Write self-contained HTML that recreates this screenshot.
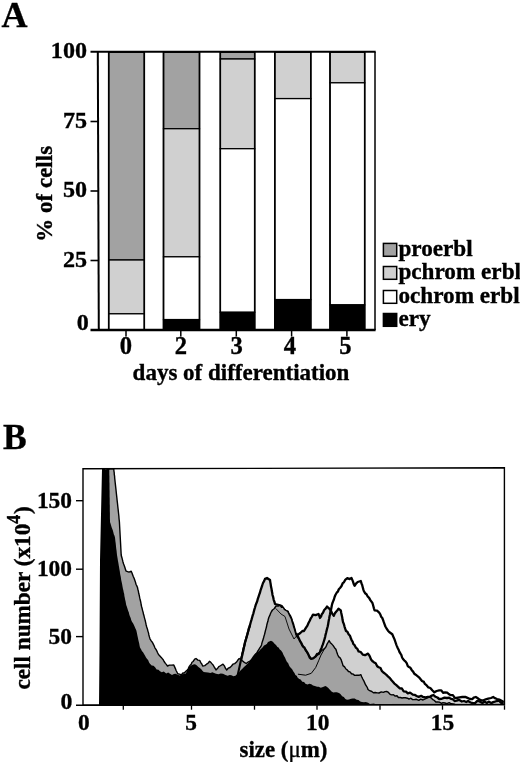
<!DOCTYPE html>
<html lang="en"><head><meta charset="utf-8"><title>Figure</title>
<style>html,body{margin:0;padding:0;background:#fff;}svg{display:block;}text{font-family:'Liberation Serif', 'DejaVu Serif', serif;font-weight:bold;fill:#000;stroke:#000;stroke-width:0.35px;}</style></head><body>
<svg width="520" height="762" viewBox="0 0 520 762">
<rect x="0" y="0" width="520" height="762" fill="#fff"/>
<g id="panelA">
<text x="1.5" y="27.4" font-size="36">A</text>
<rect x="108.7" y="52" width="35.6" height="208.0" fill="#a2a2a2" stroke="#000" stroke-width="1.3"/>
<rect x="108.7" y="260" width="35.6" height="53.8" fill="#d0d0d0" stroke="#000" stroke-width="1.3"/>
<rect x="108.7" y="313.8" width="35.6" height="16.2" fill="#fff" stroke="#000" stroke-width="1.3"/>
<rect x="108.7" y="52.0" width="35.6" height="278.0" fill="none" stroke="#000" stroke-width="1.6"/>
<rect x="163.5" y="52" width="36.0" height="76.7" fill="#a2a2a2" stroke="#000" stroke-width="1.3"/>
<rect x="163.5" y="128.7" width="36.0" height="128.1" fill="#d0d0d0" stroke="#000" stroke-width="1.3"/>
<rect x="163.5" y="256.8" width="36.0" height="62.8" fill="#fff" stroke="#000" stroke-width="1.3"/>
<rect x="163.5" y="319.6" width="36.0" height="10.4" fill="#000" stroke="#000" stroke-width="1.3"/>
<rect x="163.5" y="52.0" width="36.0" height="278.0" fill="none" stroke="#000" stroke-width="1.6"/>
<rect x="220.3" y="52" width="34.4" height="7.0" fill="#a2a2a2" stroke="#000" stroke-width="1.3"/>
<rect x="220.3" y="59" width="34.4" height="89.7" fill="#d0d0d0" stroke="#000" stroke-width="1.3"/>
<rect x="220.3" y="148.7" width="34.4" height="163.6" fill="#fff" stroke="#000" stroke-width="1.3"/>
<rect x="220.3" y="312.3" width="34.4" height="17.7" fill="#000" stroke="#000" stroke-width="1.3"/>
<rect x="220.3" y="52.0" width="34.4" height="278.0" fill="none" stroke="#000" stroke-width="1.6"/>
<rect x="274.8" y="52" width="36.0" height="46.6" fill="#d0d0d0" stroke="#000" stroke-width="1.3"/>
<rect x="274.8" y="98.6" width="36.0" height="201.0" fill="#fff" stroke="#000" stroke-width="1.3"/>
<rect x="274.8" y="299.6" width="36.0" height="30.4" fill="#000" stroke="#000" stroke-width="1.3"/>
<rect x="274.8" y="52.0" width="36.0" height="278.0" fill="none" stroke="#000" stroke-width="1.6"/>
<rect x="330.0" y="52" width="34.7" height="30.8" fill="#d0d0d0" stroke="#000" stroke-width="1.3"/>
<rect x="330.0" y="82.8" width="34.7" height="222.1" fill="#fff" stroke="#000" stroke-width="1.3"/>
<rect x="330.0" y="304.9" width="34.7" height="25.1" fill="#000" stroke="#000" stroke-width="1.3"/>
<rect x="330.0" y="52.0" width="34.7" height="278.0" fill="none" stroke="#000" stroke-width="1.6"/>
<line x1="97.8" y1="52.0" x2="98.8" y2="330.0" stroke="#000" stroke-width="2"/>
<line x1="90.5" y1="51.8" x2="375.7" y2="51.8" stroke="#000" stroke-width="1.9"/>
<line x1="375.0" y1="52.0" x2="375.0" y2="330.0" stroke="#000" stroke-width="1.5"/>
<line x1="90.5" y1="330.0" x2="375.6" y2="330.0" stroke="#000" stroke-width="2.4"/>
<text x="87" y="58.3" font-size="24.1" text-anchor="end">100</text>
<line x1="90.5" y1="121.5" x2="98.5" y2="121.5" stroke="#000" stroke-width="1.6"/>
<text x="87" y="127.8" font-size="24.1" text-anchor="end">75</text>
<line x1="90.5" y1="191" x2="98.5" y2="191" stroke="#000" stroke-width="1.6"/>
<text x="87" y="197.3" font-size="24.1" text-anchor="end">50</text>
<line x1="90.5" y1="260.5" x2="98.5" y2="260.5" stroke="#000" stroke-width="1.6"/>
<text x="87" y="266.8" font-size="24.1" text-anchor="end">25</text>
<text x="88.7" y="330" font-size="24.1" text-anchor="end">0</text>
<line x1="126" y1="330.0" x2="126" y2="336.5" stroke="#000" stroke-width="1.5"/>
<text x="126" y="354.3" font-size="24.6" text-anchor="middle">0</text>
<line x1="180.8" y1="330.0" x2="180.8" y2="336.5" stroke="#000" stroke-width="1.5"/>
<text x="180.8" y="354.3" font-size="24.6" text-anchor="middle">2</text>
<line x1="236.3" y1="330.0" x2="236.3" y2="336.5" stroke="#000" stroke-width="1.5"/>
<text x="236.60000000000002" y="354.3" font-size="24.6" text-anchor="middle">3</text>
<line x1="291.6" y1="330.0" x2="291.6" y2="336.5" stroke="#000" stroke-width="1.5"/>
<text x="290.0" y="354.3" font-size="24.6" text-anchor="middle">4</text>
<line x1="346.9" y1="330.0" x2="346.9" y2="336.5" stroke="#000" stroke-width="1.5"/>
<text x="345.29999999999995" y="354.3" font-size="24.6" text-anchor="middle">5</text>
<text x="241" y="380.4" font-size="23" text-anchor="middle">days of differentiation</text>
<text transform="translate(52,193.8) rotate(-90)" font-size="23" text-anchor="middle">% of cells</text>
<rect x="383.4" y="243.39999999999998" width="13.3" height="12.9" fill="#a2a2a2" stroke="#000" stroke-width="1.5"/>
<text x="398.4" y="256" font-size="23.2">proerbl</text>
<rect x="383.4" y="266.5" width="13.3" height="12.8" fill="#d0d0d0" stroke="#000" stroke-width="1.5"/>
<text x="398.4" y="279" font-size="23.2">pchrom erbl</text>
<rect x="383.4" y="290.5" width="13.3" height="12.8" fill="#fff" stroke="#000" stroke-width="1.5"/>
<text x="398.4" y="303" font-size="23.2">ochrom erbl</text>
<rect x="383.4" y="313.5" width="13.3" height="12.8" fill="#000" stroke="#000" stroke-width="1.5"/>
<text x="398.4" y="326" font-size="23.2">ery</text>
</g>
<g id="panelB">
<text x="3" y="449.2" font-size="35.5">B</text>
<clipPath id="cb"><rect x="83.0" y="468.8" width="421.5" height="236.40000000000003"/></clipPath>
<g clip-path="url(#cb)">
<polygon points="237.5,705.0 237.5,676.0 237.9,674.0 238.4,671.7 238.9,670.1 239.3,667.8 239.7,665.9 240.1,663.8 240.6,662.0 241.0,660.0 241.5,657.6 242.1,655.8 242.4,653.3 243.1,651.5 243.4,649.1 244.0,647.1 244.5,644.9 245.0,642.5 245.5,640.8 246.1,638.8 246.7,636.6 247.2,635.0 247.8,632.6 248.3,630.8 248.8,628.6 249.5,627.1 250.0,625.0 250.6,622.7 251.0,621.3 251.6,619.4 252.2,617.3 252.7,615.4 253.4,613.3 253.9,611.3 254.4,609.4 255.0,607.5 255.7,605.0 256.4,603.2 257.2,601.3 257.8,598.9 258.5,596.8 259.3,594.3 260.0,592.5 260.7,589.8 261.4,587.8 262.2,585.5 263.0,583.0 264.1,581.1 265.0,578.8 267.0,578.0 270.0,580.0 270.3,582.1 270.7,584.3 271.0,586.6 271.5,588.7 271.8,590.8 272.2,592.7 272.5,595.0 273.2,597.2 273.7,599.8 274.5,602.0 275.0,604.0 277.0,604.5 280.0,605.4 281.8,606.0 283.6,609.0 285.6,610.8 287.7,611.5 288.5,613.8 289.7,615.4 290.5,616.9 291.5,619.2 292.0,621.1 292.6,622.7 293.3,624.7 293.8,627.0 294.4,628.6 294.9,630.5 295.4,632.8 296.0,634.6 298.0,634.6 300.3,633.0 302.4,631.0 304.0,631.0 305.1,629.2 306.2,627.4 307.4,625.6 308.5,623.0 309.7,620.7 310.6,618.7 311.7,617.0 313.0,614.6 315.6,615.1 318.5,614.0 319.4,616.1 320.0,618.0 321.1,616.3 321.8,614.2 323.0,612.7 324.2,610.0 325.6,608.7 327.0,606.5 328.7,608.1 330.0,609.6 331.2,611.2 332.3,613.9 333.8,615.8 334.9,613.3 336.1,611.7 337.4,610.2 338.5,608.8 340.8,610.4 341.2,612.8 341.7,615.1 342.2,617.2 342.5,619.6 343.0,622.0 343.8,623.9 344.6,626.8 345.2,628.7 346.0,631.0 347.4,631.8 348.6,634.3 350.0,635.8 350.8,638.0 351.7,640.3 352.6,641.7 353.3,644.0 354.6,645.2 355.8,647.6 357.4,648.9 358.6,651.4 360.7,652.0 362.8,654.6 365.1,655.2 368.0,653.6 369.1,655.1 370.2,657.3 371.1,659.6 372.3,661.0 373.8,662.2 375.7,663.3 377.2,666.2 378.7,667.3 380.5,668.0 381.8,670.9 383.4,672.5 385.0,673.7 386.4,674.8 387.9,676.4 389.9,678.1 391.3,680.0 393.1,682.0 394.4,683.6 396.1,684.9 397.7,686.4 399.8,688.3 401.9,688.5 403.7,691.3 406.0,691.6 407.8,693.3 410.1,692.6 412.8,694.6 414.6,694.8 416.6,696.0 418.7,696.9 421.2,695.8 423.0,697.0 425.5,697.3 427.7,697.0 430.0,696.7 431.8,695.6 433.5,695.0 435.6,696.8 437.4,697.5 439.2,699.0 441.7,698.8 444.5,697.6 447.0,698.0 449.2,697.7 450.5,698.6 453.0,699.3 454.6,701.0 456.7,700.6 458.9,699.8 461.8,701.5 464.0,701.0 466.2,702.0 468.1,700.9 470.2,702.2 472.0,703.0 474.8,703.3 477.3,700.9 479.6,701.5 482.4,703.1 484.3,701.5 487.0,703.0 488.6,701.6 491.2,703.1 493.2,702.1 494.8,701.7 497.0,701.0 498.9,700.7 501.2,703.0 503.7,703.0 503.7,705.0" fill="#d0d0d0"/>
<polyline points="237.5,676.0 237.9,674.0 238.4,671.7 238.9,670.1 239.3,667.8 239.7,665.9 240.1,663.8 240.6,662.0 241.0,660.0 241.5,657.6 242.1,655.8 242.4,653.3 243.1,651.5 243.4,649.1 244.0,647.1 244.5,644.9 245.0,642.5 245.5,640.8 246.1,638.8 246.7,636.6 247.2,635.0 247.8,632.6 248.3,630.8 248.8,628.6 249.5,627.1 250.0,625.0 250.6,622.7 251.0,621.3 251.6,619.4 252.2,617.3 252.7,615.4 253.4,613.3 253.9,611.3 254.4,609.4 255.0,607.5 255.7,605.0 256.4,603.2 257.2,601.3 257.8,598.9 258.5,596.8 259.3,594.3 260.0,592.5 260.7,589.8 261.4,587.8 262.2,585.5 263.0,583.0 264.1,581.1 265.0,578.8 267.0,578.0 270.0,580.0 270.3,582.1 270.7,584.3 271.0,586.6 271.5,588.7 271.8,590.8 272.2,592.7 272.5,595.0 273.2,597.2 273.7,599.8 274.5,602.0 275.0,604.0 277.0,604.5 280.0,605.4 281.8,606.0 283.6,609.0 285.6,610.8 287.7,611.5 288.5,613.8 289.7,615.4 290.5,616.9 291.5,619.2 292.0,621.1 292.6,622.7 293.3,624.7 293.8,627.0 294.4,628.6 294.9,630.5 295.4,632.8 296.0,634.6 298.0,634.6 300.3,633.0 302.4,631.0 304.0,631.0 305.1,629.2 306.2,627.4 307.4,625.6 308.5,623.0 309.7,620.7 310.6,618.7 311.7,617.0 313.0,614.6 315.6,615.1 318.5,614.0 319.4,616.1 320.0,618.0 321.1,616.3 321.8,614.2 323.0,612.7 324.2,610.0 325.6,608.7 327.0,606.5 328.7,608.1 330.0,609.6 331.2,611.2 332.3,613.9 333.8,615.8 334.9,613.3 336.1,611.7 337.4,610.2 338.5,608.8 340.8,610.4 341.2,612.8 341.7,615.1 342.2,617.2 342.5,619.6 343.0,622.0 343.8,623.9 344.6,626.8 345.2,628.7 346.0,631.0 347.4,631.8 348.6,634.3 350.0,635.8 350.8,638.0 351.7,640.3 352.6,641.7 353.3,644.0 354.6,645.2 355.8,647.6 357.4,648.9 358.6,651.4 360.7,652.0 362.8,654.6 365.1,655.2 368.0,653.6 369.1,655.1 370.2,657.3 371.1,659.6 372.3,661.0 373.8,662.2 375.7,663.3 377.2,666.2 378.7,667.3 380.5,668.0 381.8,670.9 383.4,672.5 385.0,673.7 386.4,674.8 387.9,676.4 389.9,678.1 391.3,680.0 393.1,682.0 394.4,683.6 396.1,684.9 397.7,686.4 399.8,688.3 401.9,688.5 403.7,691.3 406.0,691.6 407.8,693.3 410.1,692.6 412.8,694.6 414.6,694.8 416.6,696.0 418.7,696.9 421.2,695.8 423.0,697.0 425.5,697.3 427.7,697.0 430.0,696.7 431.8,695.6 433.5,695.0 435.6,696.8 437.4,697.5 439.2,699.0 441.7,698.8 444.5,697.6 447.0,698.0 449.2,697.7 450.5,698.6 453.0,699.3 454.6,701.0 456.7,700.6 458.9,699.8 461.8,701.5 464.0,701.0 466.2,702.0 468.1,700.9 470.2,702.2 472.0,703.0 474.8,703.3 477.3,700.9 479.6,701.5 482.4,703.1 484.3,701.5 487.0,703.0 488.6,701.6 491.2,703.1 493.2,702.1 494.8,701.7 497.0,701.0 498.9,700.7 501.2,703.0 503.7,703.0" fill="none" stroke="#000" stroke-width="2.3" stroke-linejoin="round"/>
<polygon points="105.0,705.0 109.0,469.0 111.4,468.6 113.8,469.0 113.9,470.8 114.2,472.6 114.3,474.6 114.6,476.2 114.7,478.1 114.9,479.8 115.1,481.7 115.3,483.5 115.5,485.3 115.7,487.1 115.9,488.9 116.1,490.8 116.3,492.7 116.5,494.5 116.7,496.4 116.9,498.1 117.1,500.1 117.3,501.8 117.5,503.5 117.7,505.5 117.9,507.3 118.1,509.0 118.3,510.9 118.5,512.8 118.7,514.6 118.9,516.4 119.0,518.1 119.2,520.0 119.4,521.8 119.5,523.6 119.6,525.5 119.7,527.4 119.8,529.2 119.9,531.1 120.0,532.9 120.1,534.8 120.2,536.6 120.3,538.4 120.4,540.3 120.5,542.1 120.6,543.9 120.7,545.8 120.8,547.7 120.9,549.5 121.0,551.3 121.1,553.2 121.2,555.0 121.6,556.8 122.1,558.3 122.6,560.3 123.0,562.0 123.6,564.0 124.3,565.7 124.9,567.5 125.5,569.6 126.2,571.2 129.0,572.1 131.2,571.2 131.9,572.7 132.7,575.1 133.3,576.6 134.1,578.3 134.7,580.1 135.4,581.9 136.0,584.2 136.8,585.9 137.5,587.5 137.9,589.6 138.4,591.3 138.7,593.3 139.2,595.1 139.6,597.2 140.0,599.0 140.5,601.0 140.9,602.9 141.2,605.0 141.7,607.0 142.2,608.8 142.6,610.6 143.1,612.2 143.5,614.3 144.0,615.8 144.4,617.6 144.9,619.4 145.4,621.3 145.8,623.1 146.2,625.0 146.7,627.0 147.4,628.9 147.9,631.1 148.5,632.9 148.9,635.0 149.4,636.9 150.0,638.8 151.2,640.9 152.5,642.5 153.4,644.4 154.1,645.7 154.9,647.8 155.8,649.1 156.7,650.7 157.5,652.5 158.5,654.5 159.7,655.7 160.8,657.1 161.8,658.1 163.2,659.7 164.1,661.5 165.4,663.4 166.3,664.4 167.5,666.0 169.4,665.1 171.5,665.1 173.8,665.0 174.5,666.6 175.4,668.6 176.1,670.5 176.9,672.0 177.7,673.8 179.5,674.1 181.5,674.8 182.9,673.0 184.2,673.0 185.9,671.2 187.3,670.0 188.2,668.8 189.1,666.7 190.1,665.3 191.2,664.3 192.0,662.3 193.1,661.5 194.7,659.2 196.0,658.5 197.9,660.1 199.8,660.4 200.6,662.3 201.8,664.0 202.7,666.0 204.8,665.6 206.5,664.2 207.9,663.4 209.4,661.3 210.6,662.1 212.1,663.9 213.3,665.2 214.3,667.2 215.2,668.5 216.0,670.0 217.4,668.6 218.8,666.7 220.0,666.0 223.0,664.2 224.4,665.9 225.4,668.2 226.7,670.0 228.2,668.2 230.0,667.5 231.5,666.0 232.9,664.2 234.7,663.6 236.3,662.3 237.7,660.3 239.2,658.5 242.0,660.4 243.9,662.1 246.2,663.5 248.1,662.0 250.0,661.0 251.7,659.9 253.3,658.2 255.0,656.0 255.9,654.2 256.9,653.3 257.7,651.1 258.8,649.7 259.6,648.1 260.7,646.7 261.5,645.0 261.9,643.1 262.5,641.3 263.0,639.7 263.5,638.0 264.0,636.1 264.5,634.5 265.0,632.5 265.4,630.8 266.0,628.6 266.5,626.8 266.8,625.0 267.3,623.0 267.9,621.3 268.3,619.2 268.8,617.5 269.8,615.4 270.5,613.5 271.5,611.5 272.5,610.0 274.4,608.5 276.0,606.0 278.3,606.1 280.0,605.4 281.5,607.2 283.3,607.4 284.4,609.4 286.1,610.5 287.7,611.5 288.6,613.3 289.5,615.1 290.5,617.1 291.5,619.2 292.0,621.4 292.6,623.3 293.2,624.9 293.7,627.1 294.3,628.6 294.9,630.7 295.4,632.5 296.0,634.6 297.1,637.0 298.6,638.5 299.8,640.6 300.6,642.4 301.6,643.3 302.6,645.7 303.8,647.1 304.6,648.3 305.6,650.0 306.7,652.2 307.8,653.3 308.7,655.1 309.9,656.6 310.9,658.8 313.4,658.3 315.7,656.4 317.0,655.5 318.6,653.1 320.0,652.0 322.5,650.0 324.8,648.3 326.0,646.8 326.9,644.4 328.0,642.5 329.1,640.6 330.3,642.7 331.8,644.1 333.0,645.4 334.5,647.7 335.9,649.2 336.5,651.2 337.1,653.0 337.8,655.0 338.8,656.9 340.1,657.9 341.2,659.8 341.7,661.6 342.4,663.4 343.0,665.6 344.6,666.9 345.9,669.0 347.0,669.7 348.5,671.5 350.0,671.9 351.5,673.8 353.0,674.0 354.6,675.4 356.8,675.3 358.9,675.3 360.8,674.6 361.7,676.8 362.8,679.0 363.8,680.8 364.6,682.6 365.4,684.5 366.3,685.8 367.3,687.5 368.0,689.5 369.7,690.7 371.8,691.5 373.4,692.7 375.2,692.5 377.3,692.9 379.0,693.0 381.3,691.9 383.3,692.4 385.0,691.6 386.6,691.5 388.2,692.2 390.1,694.3 391.7,694.9 393.5,694.8 395.2,696.1 397.0,695.7 398.4,697.5 400.4,697.5 402.0,698.0 403.7,697.7 405.4,697.8 407.5,698.2 409.0,699.1 410.9,698.2 412.6,699.6 414.6,699.5 416.5,699.3 418.8,700.3 420.7,699.1 423.0,700.0 425.2,698.8 427.1,698.2 429.4,697.0 431.1,697.8 432.5,699.4 434.4,700.5 435.8,702.0 437.7,701.9 439.4,702.1 441.6,703.3 443.0,702.6 445.0,703.0 446.8,703.7 449.2,702.7 451.2,703.8 453.2,704.0 455.0,704.5 455.0,705.0" fill="#a2a2a2"/>
<polyline points="109.0,469.0 111.4,468.6 113.8,469.0 113.9,470.8 114.2,472.6 114.3,474.6 114.6,476.2 114.7,478.1 114.9,479.8 115.1,481.7 115.3,483.5 115.5,485.3 115.7,487.1 115.9,488.9 116.1,490.8 116.3,492.7 116.5,494.5 116.7,496.4 116.9,498.1 117.1,500.1 117.3,501.8 117.5,503.5 117.7,505.5 117.9,507.3 118.1,509.0 118.3,510.9 118.5,512.8 118.7,514.6 118.9,516.4 119.0,518.1 119.2,520.0 119.4,521.8 119.5,523.6 119.6,525.5 119.7,527.4 119.8,529.2 119.9,531.1 120.0,532.9 120.1,534.8 120.2,536.6 120.3,538.4 120.4,540.3 120.5,542.1 120.6,543.9 120.7,545.8 120.8,547.7 120.9,549.5 121.0,551.3 121.1,553.2 121.2,555.0 121.6,556.8 122.1,558.3 122.6,560.3 123.0,562.0 123.6,564.0 124.3,565.7 124.9,567.5 125.5,569.6 126.2,571.2 129.0,572.1 131.2,571.2 131.9,572.7 132.7,575.1 133.3,576.6 134.1,578.3 134.7,580.1 135.4,581.9 136.0,584.2 136.8,585.9 137.5,587.5 137.9,589.6 138.4,591.3 138.7,593.3 139.2,595.1 139.6,597.2 140.0,599.0 140.5,601.0 140.9,602.9 141.2,605.0 141.7,607.0 142.2,608.8 142.6,610.6 143.1,612.2 143.5,614.3 144.0,615.8 144.4,617.6 144.9,619.4 145.4,621.3 145.8,623.1 146.2,625.0 146.7,627.0 147.4,628.9 147.9,631.1 148.5,632.9 148.9,635.0 149.4,636.9 150.0,638.8 151.2,640.9 152.5,642.5 153.4,644.4 154.1,645.7 154.9,647.8 155.8,649.1 156.7,650.7 157.5,652.5 158.5,654.5 159.7,655.7 160.8,657.1 161.8,658.1 163.2,659.7 164.1,661.5 165.4,663.4 166.3,664.4 167.5,666.0 169.4,665.1 171.5,665.1 173.8,665.0 174.5,666.6 175.4,668.6 176.1,670.5 176.9,672.0 177.7,673.8 179.5,674.1 181.5,674.8 182.9,673.0 184.2,673.0 185.9,671.2 187.3,670.0 188.2,668.8 189.1,666.7 190.1,665.3 191.2,664.3 192.0,662.3 193.1,661.5 194.7,659.2 196.0,658.5 197.9,660.1 199.8,660.4 200.6,662.3 201.8,664.0 202.7,666.0 204.8,665.6 206.5,664.2 207.9,663.4 209.4,661.3 210.6,662.1 212.1,663.9 213.3,665.2 214.3,667.2 215.2,668.5 216.0,670.0 217.4,668.6 218.8,666.7 220.0,666.0 223.0,664.2 224.4,665.9 225.4,668.2 226.7,670.0 228.2,668.2 230.0,667.5 231.5,666.0 232.9,664.2 234.7,663.6 236.3,662.3 237.7,660.3 239.2,658.5 242.0,660.4 243.9,662.1 246.2,663.5 248.1,662.0 250.0,661.0 251.7,659.9 253.3,658.2 255.0,656.0 255.9,654.2 256.9,653.3 257.7,651.1 258.8,649.7 259.6,648.1 260.7,646.7 261.5,645.0 261.9,643.1 262.5,641.3 263.0,639.7 263.5,638.0 264.0,636.1 264.5,634.5 265.0,632.5 265.4,630.8 266.0,628.6 266.5,626.8 266.8,625.0 267.3,623.0 267.9,621.3 268.3,619.2 268.8,617.5 269.8,615.4 270.5,613.5 271.5,611.5 272.5,610.0 274.4,608.5 276.0,606.0 278.3,606.1 280.0,605.4 281.5,607.2 283.3,607.4 284.4,609.4 286.1,610.5 287.7,611.5 288.6,613.3 289.5,615.1 290.5,617.1 291.5,619.2 292.0,621.4 292.6,623.3 293.2,624.9 293.7,627.1 294.3,628.6 294.9,630.7 295.4,632.5 296.0,634.6 297.1,637.0 298.6,638.5 299.8,640.6 300.6,642.4 301.6,643.3 302.6,645.7 303.8,647.1 304.6,648.3 305.6,650.0 306.7,652.2 307.8,653.3 308.7,655.1 309.9,656.6 310.9,658.8 313.4,658.3 315.7,656.4 317.0,655.5 318.6,653.1 320.0,652.0 322.5,650.0 324.8,648.3 326.0,646.8 326.9,644.4 328.0,642.5 329.1,640.6 330.3,642.7 331.8,644.1 333.0,645.4 334.5,647.7 335.9,649.2 336.5,651.2 337.1,653.0 337.8,655.0 338.8,656.9 340.1,657.9 341.2,659.8 341.7,661.6 342.4,663.4 343.0,665.6 344.6,666.9 345.9,669.0 347.0,669.7 348.5,671.5 350.0,671.9 351.5,673.8 353.0,674.0 354.6,675.4 356.8,675.3 358.9,675.3 360.8,674.6 361.7,676.8 362.8,679.0 363.8,680.8 364.6,682.6 365.4,684.5 366.3,685.8 367.3,687.5 368.0,689.5 369.7,690.7 371.8,691.5 373.4,692.7 375.2,692.5 377.3,692.9 379.0,693.0 381.3,691.9 383.3,692.4 385.0,691.6 386.6,691.5 388.2,692.2 390.1,694.3 391.7,694.9 393.5,694.8 395.2,696.1 397.0,695.7 398.4,697.5 400.4,697.5 402.0,698.0 403.7,697.7 405.4,697.8 407.5,698.2 409.0,699.1 410.9,698.2 412.6,699.6 414.6,699.5 416.5,699.3 418.8,700.3 420.7,699.1 423.0,700.0 425.2,698.8 427.1,698.2 429.4,697.0 431.1,697.8 432.5,699.4 434.4,700.5 435.8,702.0 437.7,701.9 439.4,702.1 441.6,703.3 443.0,702.6 445.0,703.0 446.8,703.7 449.2,702.7 451.2,703.8 453.2,704.0 455.0,704.5" fill="none" stroke="#000" stroke-width="1.4" stroke-linejoin="round"/>
<polyline points="275.8,608.5 281.0,614.0 285.0,616.5 289.0,629.0 294.0,639.0 296.5,636.0" fill="none" stroke="#000" stroke-width="0.9"/>
<polyline points="297.9,674.2 305.6,675.2 311.3,673.3 315.7,667.5 318.6,660.8 321.0,655.0 324.8,648.3" fill="none" stroke="#000" stroke-width="1"/>
<polyline points="237.3,677.0 241.0,660.0 245.0,642.5 250.0,625.0" fill="none" stroke="#000" stroke-width="2.1" stroke-linejoin="round"/>
<polygon points="99.0,705.0 99.5,650.0 100.0,560.0 102.0,469.0 103.6,468.6 105.4,469.3 107.4,469.1 109.2,469.0 109.3,470.8 109.3,472.6 109.3,474.5 109.4,476.3 109.4,478.1 109.4,480.0 109.4,481.8 109.5,483.6 109.5,485.5 109.5,487.3 109.5,489.1 109.6,490.9 109.6,492.8 109.6,494.6 109.6,496.4 109.7,498.2 109.7,500.1 109.7,501.9 109.7,503.7 109.8,505.5 109.8,507.4 109.8,509.2 109.8,511.0 109.9,512.9 109.9,514.7 109.9,516.5 109.9,518.4 110.0,520.2 110.0,522.0 110.6,523.8 111.1,525.5 111.7,527.4 112.3,528.9 112.8,530.3 113.4,532.4 113.8,534.3 114.5,535.7 115.0,537.5 115.2,539.3 115.4,541.3 115.7,543.2 115.9,545.2 116.1,547.2 116.3,549.1 116.6,551.1 116.8,553.1 117.0,555.0 117.3,556.7 117.6,558.5 117.9,560.5 118.2,562.0 118.5,563.8 118.8,565.7 119.1,567.3 119.4,569.2 119.8,571.2 120.0,572.9 120.3,574.7 120.7,576.6 121.0,578.3 121.2,580.0 121.6,581.7 122.0,583.4 122.3,585.2 122.6,587.0 123.0,588.9 123.4,590.5 123.7,592.3 124.2,594.1 124.4,596.1 124.8,597.8 125.1,599.6 125.6,601.6 125.9,603.2 126.2,605.0 126.8,606.6 127.5,608.7 128.1,610.8 128.8,612.2 129.3,614.4 129.9,616.3 130.7,618.1 131.2,620.0 132.1,622.0 132.9,623.1 133.8,624.7 134.7,626.7 135.3,628.2 136.2,630.0 136.7,632.1 137.1,634.0 137.5,636.0 137.9,637.7 138.3,639.7 138.7,641.5 139.2,643.5 139.6,645.7 140.0,647.5 141.2,649.6 142.0,651.2 142.9,652.1 143.9,653.7 145.1,655.8 146.0,657.6 147.1,659.0 148.1,660.1 149.1,662.6 150.0,663.8 151.7,665.4 153.5,665.7 155.1,667.2 156.6,669.5 158.5,669.8 160.0,671.2 161.8,672.2 163.8,671.5 166.2,673.6 168.2,672.6 170.0,673.8 172.0,675.0 173.9,674.0 175.5,673.8 177.7,674.8 179.7,675.5 181.8,674.4 183.7,673.9 185.4,673.8 186.3,672.4 187.2,670.2 188.3,668.4 189.2,667.0 191.1,665.6 193.3,664.5 195.0,664.2 196.6,665.2 198.4,666.9 199.8,668.0 201.3,669.2 202.4,670.7 203.7,672.0 205.6,672.3 208.0,672.5 210.4,672.9 212.4,672.2 214.1,672.9 216.0,673.8 218.4,674.3 220.7,673.5 223.0,673.8 225.5,674.9 227.7,675.8 229.7,675.0 231.4,675.3 233.5,676.3 235.4,675.8 236.9,674.4 238.2,673.5 239.6,671.6 241.0,670.0 242.6,668.6 244.0,667.0 245.7,665.6 247.0,664.2 248.3,662.9 249.2,661.6 250.6,659.7 251.4,658.4 252.7,656.5 254.2,654.5 255.7,653.1 257.4,651.7 259.0,651.3 260.4,649.5 262.5,647.5 264.0,645.6 265.1,645.0 266.8,643.9 268.0,642.0 271.0,640.8 272.9,641.8 274.3,643.4 276.0,645.0 277.4,647.1 278.6,647.6 279.8,649.5 281.1,650.6 282.5,652.5 283.3,654.6 284.2,656.3 285.1,657.7 286.0,660.0 287.0,661.9 288.1,663.1 289.1,665.5 290.0,667.0 291.0,668.1 292.3,669.5 293.2,671.3 294.5,673.0 295.4,675.0 296.7,675.8 297.7,677.7 299.3,679.0 300.6,679.5 302.3,681.7 304.1,681.9 305.4,683.8 307.5,684.5 309.4,683.8 311.3,684.2 313.0,685.4 314.9,685.9 317.1,686.7 318.6,686.7 320.8,687.7 323.0,686.9 325.4,686.0 326.8,686.8 328.3,688.1 329.9,689.8 331.5,691.5 333.3,692.4 335.1,692.3 336.8,692.3 339.0,693.0 340.4,694.1 342.2,696.3 343.8,697.0 345.4,699.0 347.0,699.8 349.0,699.4 351.1,698.7 352.8,698.4 354.6,698.5 356.7,699.7 358.5,700.0 360.2,701.5 362.0,702.0 363.9,702.3 365.8,702.1 368.1,702.7 370.0,704.0 371.8,703.7 374.2,703.6 376.1,705.3 377.8,704.4 380.0,705.0" fill="#000"/>
<polyline points="296.0,633.0 296.9,634.7 297.8,636.2 298.9,638.4 299.8,640.6 300.9,642.3 302.1,645.0 303.3,646.8 304.4,647.4 305.6,650.0 306.8,651.7 307.8,653.3 308.7,655.3 309.7,657.6 310.9,658.8 313.1,658.4 315.7,656.4 317.0,654.0 318.8,654.0 320.0,652.0 320.7,649.6 321.5,648.2 322.2,646.0 322.9,644.4 323.8,641.5 324.6,638.8 325.2,636.6 325.6,634.6 326.1,632.8 326.7,630.3 327.2,628.3 327.7,626.5 328.1,624.6 328.4,622.5 328.8,620.3 329.2,618.5 329.5,616.4 330.0,614.2 330.4,611.9 330.9,610.2 331.4,607.7 331.8,605.5 332.3,603.5 333.1,601.4 333.9,599.5 334.6,597.0 335.4,595.0 336.7,592.7 337.8,591.7 338.8,589.2 340.0,588.0 341.4,586.3 342.7,583.2 343.9,582.3 345.4,579.6 347.3,578.2 349.7,579.1 351.5,578.0 352.2,579.6 353.0,581.6 353.7,583.9 354.6,585.8 356.0,583.6 357.7,582.0 360.8,581.0 361.5,583.4 362.1,584.7 362.6,586.7 363.3,589.4 363.8,591.0 365.1,593.2 366.5,594.2 367.7,596.5 369.1,597.9 370.5,600.4 372.3,602.7 372.9,604.5 373.5,606.7 374.0,608.6 374.6,610.4 377.0,610.7 379.2,612.7 380.3,614.3 381.2,616.8 382.3,618.0 383.1,620.2 383.8,622.2 384.7,624.6 385.4,626.5 386.8,628.8 388.0,630.7 389.2,632.0 392.3,634.2 393.1,636.3 393.9,637.9 394.6,639.6 395.4,642.0 396.2,644.3 396.9,646.1 397.7,648.0 398.6,649.7 399.4,651.8 400.5,653.7 401.3,654.9 402.1,657.5 403.0,659.0 404.4,660.6 405.4,661.4 406.7,663.2 407.8,666.1 409.0,667.0 410.4,667.8 411.8,670.2 413.1,671.6 414.4,673.8 415.7,674.7 417.5,676.1 419.0,677.3 420.6,679.2 422.0,681.0 423.9,681.9 424.9,683.9 426.7,685.4 428.4,687.4 430.3,688.0 432.5,690.5 434.4,692.3 436.6,691.0 439.2,690.4 441.3,690.3 443.1,692.8 445.0,692.3 447.2,692.6 448.7,694.0 450.8,695.2 452.9,695.2 454.7,697.8 456.5,698.0 459.5,697.4 462.3,697.0 465.2,696.9 467.5,697.9 470.0,699.0 472.2,699.2 473.7,697.6 475.8,697.0 477.4,698.0 479.5,699.6 481.4,700.4 483.5,700.4 485.8,699.3 488.2,698.6 491.0,698.0 493.2,697.0 494.8,698.1 497.0,699.0 499.2,699.5 501.6,700.8 503.7,702.0" fill="none" stroke="#000" stroke-width="2.3" stroke-linejoin="round"/>
</g>
<polygon points="83.0,468.8 504.4,467.8 504.5,704.5 83.0,705.2" fill="none" stroke="#000" stroke-width="1.4"/>
<line x1="76.0" y1="705.2" x2="504.5" y2="704.5" stroke="#000" stroke-width="1.5"/>
<line x1="76.0" y1="500.7" x2="83.0" y2="500.7" stroke="#000" stroke-width="1.4"/>
<text x="72" y="507.7" font-size="23.4" text-anchor="end">150</text>
<line x1="76.0" y1="569.2" x2="83.0" y2="569.2" stroke="#000" stroke-width="1.4"/>
<text x="72" y="576.2" font-size="23.4" text-anchor="end">100</text>
<line x1="76.0" y1="636.6" x2="83.0" y2="636.6" stroke="#000" stroke-width="1.4"/>
<text x="72" y="643.6" font-size="23.4" text-anchor="end">50</text>
<text x="72.3" y="709" font-size="23.8" text-anchor="end">0</text>
<line x1="123.3" y1="705.2" x2="123.3" y2="709.7" stroke="#000" stroke-width="1.3"/>
<line x1="191.5" y1="705.2" x2="191.5" y2="709.7" stroke="#000" stroke-width="1.3"/>
<line x1="254.5" y1="705.2" x2="254.5" y2="709.7" stroke="#000" stroke-width="1.3"/>
<line x1="317" y1="705.2" x2="317" y2="709.7" stroke="#000" stroke-width="1.3"/>
<line x1="380" y1="705.2" x2="380" y2="709.7" stroke="#000" stroke-width="1.3"/>
<line x1="442.5" y1="705.2" x2="442.5" y2="709.7" stroke="#000" stroke-width="1.3"/>
<line x1="504.5" y1="705.2" x2="504.5" y2="709.7" stroke="#000" stroke-width="1.3"/>
<text x="83.8" y="729.5" font-size="23.4" text-anchor="middle">0</text>
<text x="191" y="729.5" font-size="23.4" text-anchor="middle">5</text>
<text x="317.8" y="729.5" font-size="23.4" text-anchor="middle">10</text>
<text x="442.5" y="729.5" font-size="23.4" text-anchor="middle">15</text>
<text x="239.5" y="756.5" font-size="22.9">size (<tspan font-weight="normal">μ</tspan>m)</text>
<text transform="translate(30.3,689.5) rotate(-90)" font-size="23.2">cell number (x10<tspan font-size="18" dy="-10.2">4</tspan><tspan dy="10.2" dx="0.8">)</tspan></text>
</g>
</svg></body></html>
